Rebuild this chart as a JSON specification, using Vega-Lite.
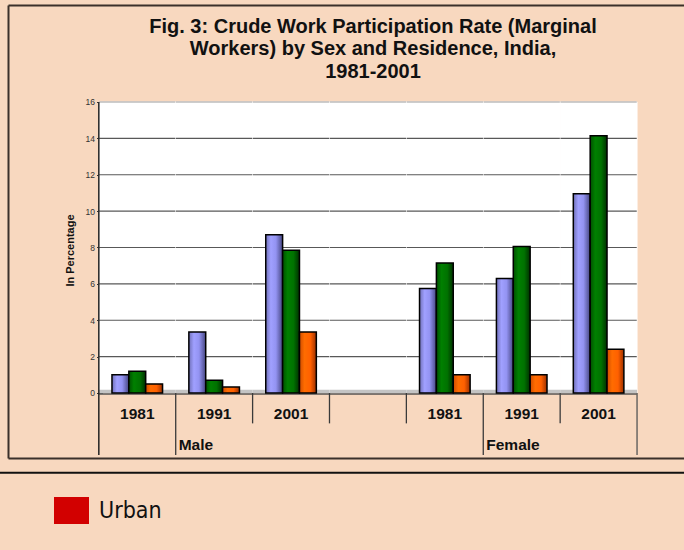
{
  "$schema": "https://vega.github.io/schema/vega-lite/v6.json",
  "autosize": {"type": "none"},
  "width": 684,
  "height": 453,
  "padding": {"left": 0, "top": 5, "right": 0, "bottom": 92},
  "background": "#f8d8bf",
  "title": {
    "text": ["Fig. 3: Crude Work Participation Rate (Marginal", "Workers) by Sex and Residence, India,", "1981-2001"],
    "anchor": "middle",
    "frame": "group",
    "baseline": "top",
    "offset": -76.8,
    "dx": 31,
    "font": "Liberation Sans",
    "fontWeight": "bold",
    "fontSize": 20,
    "lineHeight": 22.5,
    "color": "#111111"
  },
  "datasets": {
    "cats": [
      {"cat": "M1981"}, {"cat": "M1991"}, {"cat": "M2001"}, {"cat": "GAP"},
      {"cat": "F1981"}, {"cat": "F1991"}, {"cat": "F2001"}
    ],
    "grid": [
      {"cat": "M1981", "g": [2, 4, 6, 8, 10, 12, 14]},
      {"cat": "M1991", "g": [2, 4, 6, 8, 10, 12, 14]},
      {"cat": "M2001", "g": [2, 4, 6, 8, 10, 12, 14]},
      {"cat": "GAP", "g": [2, 4, 6, 8, 10, 12, 14]},
      {"cat": "F1981", "g": [2, 4, 6, 8, 10, 12, 14]},
      {"cat": "F1991", "g": [2, 4, 6, 8, 10, 12, 14]},
      {"cat": "F2001", "g": [2, 4, 6, 8, 10, 12, 14]}
    ],
    "bars": [
      {"sex": "Male", "year": "1981", "cat": "M1981", "series": "Total", "value": 1.0},
      {"sex": "Male", "year": "1981", "cat": "M1981", "series": "Rural", "value": 1.2},
      {"sex": "Male", "year": "1981", "cat": "M1981", "series": "Urban", "value": 0.5},
      {"sex": "Male", "year": "1991", "cat": "M1991", "series": "Total", "value": 3.35},
      {"sex": "Male", "year": "1991", "cat": "M1991", "series": "Rural", "value": 0.7},
      {"sex": "Male", "year": "1991", "cat": "M1991", "series": "Urban", "value": 0.33},
      {"sex": "Male", "year": "2001", "cat": "M2001", "series": "Total", "value": 8.7},
      {"sex": "Male", "year": "2001", "cat": "M2001", "series": "Rural", "value": 7.85},
      {"sex": "Male", "year": "2001", "cat": "M2001", "series": "Urban", "value": 3.35},
      {"sex": "Female", "year": "1981", "cat": "F1981", "series": "Total", "value": 5.75},
      {"sex": "Female", "year": "1981", "cat": "F1981", "series": "Rural", "value": 7.15},
      {"sex": "Female", "year": "1981", "cat": "F1981", "series": "Urban", "value": 1.0},
      {"sex": "Female", "year": "1991", "cat": "F1991", "series": "Total", "value": 6.3},
      {"sex": "Female", "year": "1991", "cat": "F1991", "series": "Rural", "value": 8.05},
      {"sex": "Female", "year": "1991", "cat": "F1991", "series": "Urban", "value": 1.0},
      {"sex": "Female", "year": "2001", "cat": "F2001", "series": "Total", "value": 10.95},
      {"sex": "Female", "year": "2001", "cat": "F2001", "series": "Rural", "value": 14.15},
      {"sex": "Female", "year": "2001", "cat": "F2001", "series": "Urban", "value": 2.4}
    ],
    "groups": [
      {"sex": "Male", "cat": "M1991"},
      {"sex": "Female", "cat": "F1991"}
    ]
  },
  "resolve": {"axis": {"x": "independent", "y": "independent"}},
  "layer": [
    {
      "data": {"name": "cats"},
      "mark": {"type": "bar", "fill": "#ffffff", "stroke": "#ffffff", "strokeWidth": 1},
      "encoding": {
        "x": {
          "field": "cat", "type": "nominal",
          "scale": {"domain": ["M1981", "M1991", "M2001", "GAP", "F1981", "F1991", "F2001"], "range": [8, 700], "paddingInner": 0, "paddingOuter": 1.0526, "align": 0.5906},
          "axis": {"orient": "top", "offset": 0, "domain": true, "domainColor": "#3b302a", "domainWidth": 2, "ticks": false, "labels": false, "grid": false, "title": null}
        },
        "y": {
          "datum": 16, "type": "quantitative",
          "scale": {"domain": [-3.5739, 21.3333], "nice": false, "zero": false},
          "axis": {"orient": "left", "offset": -8, "domain": true, "domainColor": "#3b302a", "domainWidth": 2, "ticks": false, "labels": false, "grid": false, "title": null}
        },
        "y2": {"datum": 0}
      }
    },
    {
      "data": {"name": "grid"},
      "transform": [{"flatten": ["g"]}],
      "mark": {"type": "tick", "size": 76.3, "thickness": 1.2, "color": "#111111"},
      "encoding": {
        "x": {"field": "cat", "type": "nominal", "axis": {"orient": "bottom", "offset": 0, "domain": true, "domainColor": "#3b302a", "domainWidth": 2, "ticks": false, "labels": false, "grid": false, "title": null}},
        "y": {"field": "g", "type": "quantitative", "axis": null}
      }
    },
    {
      "data": {"name": "cats"},
      "mark": {"type": "tick", "size": 76.3, "thickness": 2, "color": "#b8b8b8"},
      "encoding": {
        "x": {"field": "cat", "type": "nominal", "axis": null},
        "y": {"datum": 16, "type": "quantitative", "axis": null}
      }
    },
    {
      "data": {"name": "cats"},
      "mark": {"type": "bar", "fill": "#c4c4c4"},
      "encoding": {
        "x": {"field": "cat", "type": "nominal", "axis": null},
        "y": {"datum": 0.18, "type": "quantitative", "axis": null},
        "y2": {"datum": 0}
      }
    },
    {
      "data": {"name": "cats"},
      "mark": {"type": "tick", "size": 76.3, "thickness": 2, "color": "#4a4a4a"},
      "encoding": {
        "x": {"field": "cat", "type": "nominal", "axis": null},
        "y": {"datum": -0.05, "type": "quantitative", "axis": null}
      }
    },
    {
      "data": {"name": "bars"},
      "transform": [{"filter": "datum.series == 'Total'"}],
      "mark": {"type": "bar", "stroke": "#000000", "strokeWidth": 1.5,
        "fill": {"gradient": "linear", "x1": 0, "y1": 0, "x2": 1, "y2": 0, "stops": [{"offset": 0, "color": "#7070b8"}, {"offset": 0.3, "color": "#a0a0ff"}, {"offset": 0.6, "color": "#9393f2"}, {"offset": 1, "color": "#464682"}]}},
      "encoding": {
        "x": {
          "field": "cat", "type": "nominal",
          "axis": {"orient": "bottom", "offset": -65, "domain": false, "ticks": false, "tickSize": 0, "grid": false, "labelPadding": 13, "labelAngle": 0, "labelFont": "Liberation Sans", "labelFontWeight": "bold", "labelFontSize": 15.5, "labelColor": "#111111", "labelExpr": "datum.value == 'GAP' ? '' : slice(datum.value, 1)", "title": null}
        },
        "xOffset": {"field": "series", "type": "nominal", "scale": {"domain": ["Total", "Rural", "Urban"], "paddingInner": 0, "paddingOuter": 0.78}},
        "y": {
          "field": "value", "type": "quantitative",
          "axis": {"orient": "left", "offset": -102.5, "domain": false, "grid": false, "values": [0, 2, 4, 6, 8, 10, 12, 14, 16], "ticks": true, "tickSize": 6, "tickColor": "#333333", "tickWidth": 1, "labelPadding": 2, "labelFont": "Liberation Sans", "labelFontSize": 8.5, "labelColor": "#333333", "title": "In Percentage", "titleFont": "Liberation Sans", "titleFontWeight": "bold", "titleFontSize": 11, "titleColor": "#111111", "titleX": -32.5, "titleY": 245, "titleAngle": -90, "titleAlign": "center", "titleBaseline": "middle"}
        }
      }
    },
    {
      "data": {"name": "bars"},
      "transform": [{"filter": "datum.series == 'Rural'"}],
      "mark": {"type": "bar", "stroke": "#000000", "strokeWidth": 1.5,
        "fill": {"gradient": "linear", "x1": 0, "y1": 0, "x2": 1, "y2": 0, "stops": [{"offset": 0, "color": "#005000"}, {"offset": 0.3, "color": "#008000"}, {"offset": 0.65, "color": "#007200"}, {"offset": 1, "color": "#003000"}]}},
      "encoding": {
        "x": {"field": "cat", "type": "nominal", "axis": null},
        "xOffset": {"field": "series", "type": "nominal"},
        "y": {"field": "value", "type": "quantitative", "axis": null}
      }
    },
    {
      "data": {"name": "bars"},
      "transform": [{"filter": "datum.series == 'Urban'"}],
      "mark": {"type": "bar", "stroke": "#000000", "strokeWidth": 1.5,
        "fill": {"gradient": "linear", "x1": 0, "y1": 0, "x2": 1, "y2": 0, "stops": [{"offset": 0, "color": "#d04c00"}, {"offset": 0.3, "color": "#ff6c00"}, {"offset": 0.65, "color": "#ff6000"}, {"offset": 1, "color": "#9c3000"}]}},
      "encoding": {
        "x": {"field": "cat", "type": "nominal", "axis": null},
        "xOffset": {"field": "series", "type": "nominal"},
        "y": {"field": "value", "type": "quantitative", "axis": null}
      }
    },
    {
      "data": {"values": [{"series": "Urban", "cat": "GAP"}]},
      "mark": {"type": "bar"},
      "encoding": {
        "x": {"field": "cat", "type": "nominal", "axis": null},
        "y": {"datum": 0, "type": "quantitative", "axis": null},
        "y2": {"datum": 0},
        "color": {
          "field": "series", "type": "nominal",
          "scale": {"domain": ["Urban"], "range": ["#d20000"]},
          "legend": {"orient": "none", "legendX": 54, "legendY": 488, "title": null, "padding": 0, "symbolType": "M-1,-0.771H1V0.771H-1Z", "symbolSize": 1225, "symbolStrokeWidth": 0, "labelFont": "Liberation Sans Narrow, DejaVu Sans Condensed, Liberation Sans, sans-serif", "labelFontSize": 23, "labelColor": "#111111", "labelOffset": 10}
        }
      }
    },
    {
      "data": {"values": [{"cat": "M1981"}]},
      "mark": {"type": "rule", "color": "#222222", "strokeWidth": 1.5},
      "encoding": {
        "x": {"field": "cat", "type": "nominal", "bandPosition": 0, "axis": null},
        "y": {"datum": 16, "type": "quantitative", "axis": null},
        "y2": {"datum": -3.41}
      }
    },
    {
      "data": {"values": [{"cat": "M1991"}, {"cat": "F1991"}]},
      "mark": {"type": "rule", "color": "#3a3a3a", "strokeWidth": 1.3},
      "encoding": {
        "x": {"field": "cat", "type": "nominal", "bandPosition": 0, "axis": null},
        "y": {"datum": 0, "type": "quantitative", "axis": null},
        "y2": {"datum": -3.41}
      }
    },
    {
      "data": {"values": [{"cat": "M2001"}, {"cat": "GAP"}, {"cat": "F1981"}, {"cat": "F2001"}]},
      "mark": {"type": "rule", "color": "#3a3a3a", "strokeWidth": 1.3},
      "encoding": {
        "x": {"field": "cat", "type": "nominal", "bandPosition": 0, "axis": null},
        "y": {"datum": 0, "type": "quantitative", "axis": null},
        "y2": {"datum": -1.67}
      }
    },
    {
      "data": {"values": [{"cat": "F2001"}]},
      "mark": {"type": "rule", "color": "#555555", "strokeWidth": 1.3},
      "encoding": {
        "x": {"field": "cat", "type": "nominal", "bandPosition": 1, "axis": null},
        "y": {"datum": 0, "type": "quantitative", "axis": null},
        "y2": {"datum": -3.41}
      }
    },
    {
      "data": {"name": "groups"},
      "mark": {"type": "text", "align": "left", "baseline": "middle", "dx": 3, "font": "Liberation Sans", "fontWeight": "bold", "fontSize": 15.5, "color": "#111111"},
      "encoding": {
        "x": {"field": "cat", "type": "nominal", "bandPosition": 0, "axis": null},
        "y": {"datum": -2.86, "type": "quantitative", "axis": null},
        "text": {"field": "sex"}
      }
    },
    {
      "data": {"values": [{"line": "separator"}]},
      "mark": {"type": "rule", "color": "#111111", "strokeWidth": 2},
      "encoding": {
        "y": {"datum": -4.38, "type": "quantitative", "axis": null}
      }
    }
  ],
  "config": {
    "view": {"stroke": null},
    "axis": {"grid": false}
  }
}
